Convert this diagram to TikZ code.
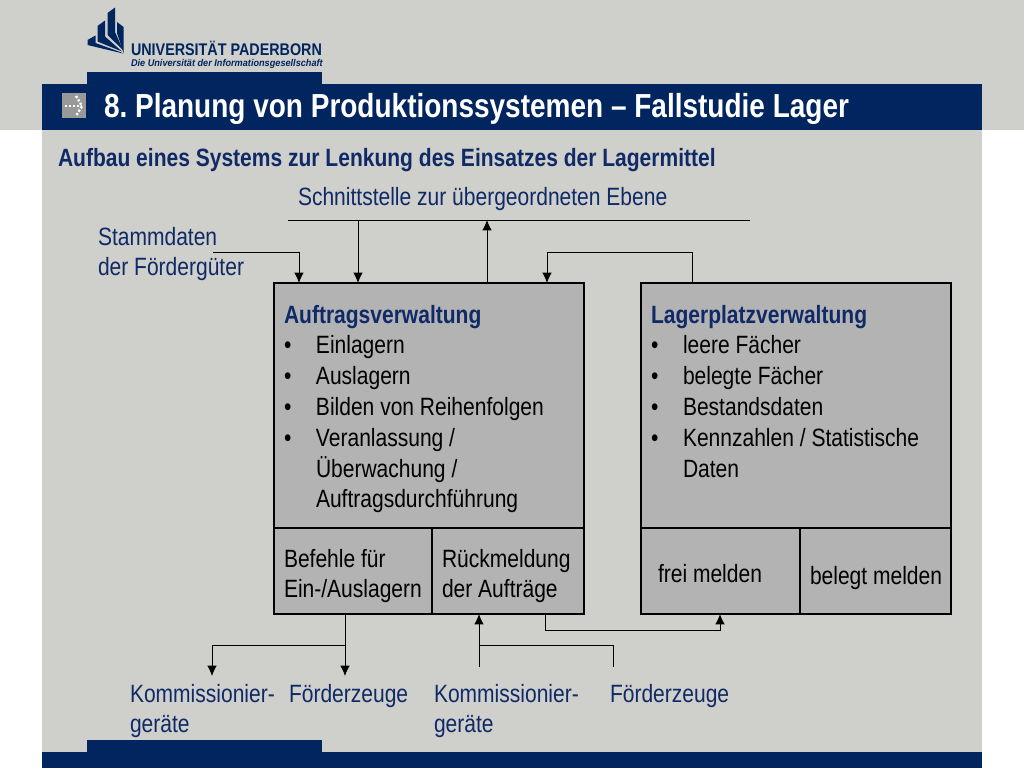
\documentclass[tikz,border=0pt]{standalone}
\usepackage{fontspec}
\usetikzlibrary{arrows.meta}
\setmainfont[FakeStretch=0.84]{Liberation Sans}
\newfontfamily\logofont[FakeStretch=0.85]{Liberation Sans}
\newfontfamily\logozeilefont[FakeStretch=0.93]{Liberation Sans}
\definecolor{upbblau}{HTML}{00255F}
\definecolor{upbgrau}{HTML}{CFCFCB}
\definecolor{boxgrau}{HTML}{B3B3B3}
\definecolor{textblau}{HTML}{0F2A66}
\newcommand{\textgr}{\fontsize{17.8}{21.9}\selectfont}
\begin{document}
\begin{tikzpicture}[x=0.25mm,y=-0.25mm]
  \tikzstyle{every node}=[inner sep=0pt,outer sep=0pt]
  \tikzstyle{kasten}=[rectangle,draw=black,line width=0.55mm,fill=boxgrau,anchor=north west]
  \tikzstyle{kastentext}=[anchor=north west,align=left,text=black,font=\textgr]
  \tikzstyle{beschr}=[anchor=north west,align=left,text=textblau,font=\textgr]
  \tikzstyle{linie}=[draw=black,line width=0.22mm]
  \tikzstyle{pfeil}=[linie,-{Latex[length=2.6mm,width=2.4mm]}]
  \useasboundingbox (0,0) rectangle (1024,768);
  % Hintergrund
  \fill[white] (0,0) rectangle (1024,768);
  \fill[upbgrau] (0,0) rectangle (1024,130);
  \fill[upbgrau] (42,130) rectangle (982,752);
  \fill[upbblau] (87,72) rectangle (322,84);
  \fill[upbblau] (42,84) rectangle (982,130);
  \fill[upbblau] (87,740) rectangle (322,752);
  \fill[upbblau] (42,752) rectangle (982,768);
  % Logo
  \fill[upbblau] (87.5,40) -- (95.5,35.5) -- (95.5,43) -- (120,52) -- (123,53.5) -- (87.5,45) -- cycle;
  \fill[upbblau] (97.5,26) -- (105,20.5) -- (105,36.5) -- (122,51.5) -- (97.5,41.5) -- cycle;
  \fill[upbblau] (107.5,13) -- (115,7.5) -- (115,32) -- (123,50) -- (107.5,35) -- cycle;
  \fill[upbblau] (117,22) -- (123.5,27) -- (123.5,53) -- (117,33) -- cycle;
  \node[anchor=base west,text=upbblau,font=\logofont\bfseries\fontsize{12}{13}\selectfont] (logoname) at (131,55) {UNIVERSITÄT PADERBORN};
  \node[anchor=base west,text=upbblau,font=\logozeilefont\bfseries\itshape\fontsize{7}{8}\selectfont] (logozeile) at (131,66) {Die Universität der Informationsgesellschaft};
  % Symbol
  \fill[gray!80] (62,93) rectangle (86,118);
  \draw[white,line width=0.6mm,dash pattern=on 0.55mm off 0.45mm] (65,106) -- (82,106);
  \draw[white,line width=0.6mm,dash pattern=on 0.55mm off 0.45mm] (76,96) -- (82,106) -- (76,116);
  % Titel
  \node[anchor=base west,text=white,font=\bfseries\fontsize{23.7}{28}\selectfont] (titel) at (104,117.5) {8.\ Planung von Produktionssystemen – Fallstudie Lager};
  \node[anchor=base west,text=textblau,font=\bfseries\fontsize{17.8}{21.8}\selectfont] (unterzeile) at (58,166) {Aufbau eines Systems zur Lenkung des Einsatzes der Lagermittel};
  \node[beschr] (schnittstelle) at (298,187) {Schnittstelle zur übergeordneten Ebene};
  \node[beschr] (stammdaten) at (98,227) {Stammdaten\\der Fördergüter};
  % Kaesten
  \node[kasten,minimum width=77.5mm,minimum height=61.25mm] (auftrag) at (274,283) {};
  \node[kasten,minimum width=39.5mm,minimum height=21.5mm] (befehle) at (274,528) {};
  \node[kasten,minimum width=38mm,minimum height=21.5mm] (rueckmeldung) at (432,528) {};
  \node[kasten,minimum width=77.5mm,minimum height=61.25mm] (lagerplatz) at (641,283) {};
  \node[kasten,minimum width=39.75mm,minimum height=21.5mm] (frei) at (641,528) {};
  \node[kasten,minimum width=37.75mm,minimum height=21.5mm] (belegt) at (800,528) {};
  % Kastentexte
  \node[kastentext] (auftragtext) at (284,301.5) {\begin{tabular}{@{}p{8mm}@{}l@{}}
    \multicolumn{2}{@{}l@{}}{\bfseries\color{textblau}Auftragsverwaltung}\\
    • & Einlagern\\
    • & Auslagern\\
    • & Bilden von Reihenfolgen\\
    • & Veranlassung /\\
      & Überwachung /\\
      & Auftragsdurchführung
  \end{tabular}};
  \node[kastentext] (lagertext) at (651,301.5) {\begin{tabular}{@{}p{8mm}@{}l@{}}
    \multicolumn{2}{@{}l@{}}{\bfseries\color{textblau}Lagerplatzverwaltung}\\
    • & leere Fächer\\
    • & belegte Fächer\\
    • & Bestandsdaten\\
    • & Kennzahlen / Statistische\\
      & Daten
  \end{tabular}};
  \node[kastentext] (befehletext) at (284,549) {Befehle für\\Ein-/Auslagern};
  \node[kastentext] (rueckmeldungtext) at (442,549) {Rückmeldung\\der Aufträge};
  \node[kastentext] (freitext) at (658,564) {frei melden};
  \node[kastentext] (belegttext) at (810,566) {belegt melden};
  % untere Beschriftung
  \node[beschr] (komm1) at (130,684) {Kommissionier-\\geräte};
  \node[beschr] (foerder1) at (289,684) {Förderzeuge};
  \node[beschr] (komm2) at (434,684) {Kommissionier-\\geräte};
  \node[beschr] (foerder2) at (610,684) {Förderzeuge};
  % Verbindungen
  \coordinate (busA) at (288,220);
  \coordinate (busB) at (750,220);
  \coordinate (stammEnde) at (213,252);
  \coordinate (aus1) at (345,676);
  \coordinate (aus2) at (212,676);
  \coordinate (ein1) at (479,667);
  \coordinate (ein2) at (613,667);
  \coordinate (knotenAus) at (345,645);
  \coordinate (knotenEin) at (479,645);
  \draw[linie] (busA) -- (busB);
  \draw[pfeil] (stammEnde) -| (299,283);
  \draw[pfeil] (358,220) -- (358,283);
  \draw[pfeil] (487,283) -- (487,220);
  \draw[pfeil] (692,283) -- (692,252) -- (547,252) -- (547,283);
  \draw[pfeil] (knotenAus |- befehle.south) -- (aus1);
  \draw[pfeil] (knotenAus) -| (aus2);
  \draw[pfeil] (ein1) -- (knotenEin |- rueckmeldung.south);
  \draw[linie] (ein2) |- (knotenEin);
  \draw[pfeil] (545,614) -- (545,630) -- (720,630) -- (720,614);
\end{tikzpicture}
\end{document}
